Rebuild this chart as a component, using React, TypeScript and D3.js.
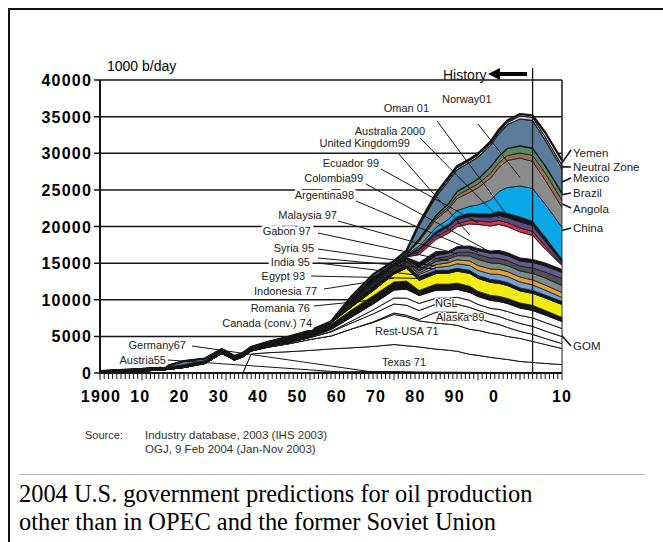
import React from 'react';
import * as d3 from 'd3';

// Production in thousand barrels per day, one value per year in YEARS.
const YEARS = [1900, 1910, 1915, 1920, 1925, 1929, 1932, 1934, 1936, 1940, 1945, 1950, 1955, 1960, 1965, 1970, 1973, 1976, 1980, 1983, 1985, 1988, 1990, 1993, 1995, 1997, 2000, 2003, 2006, 2010];

const austria = [0, 0, 0, 0, 0, 0, 0, 0, 0, 20, 20, 40, 75, 55, 50, 50, 40, 35, 30, 25, 25, 20, 20, 20, 20, 20, 20, 20, 20, 20];
const germany = [0, 0, 0, 0, 0, 0, 0, 0, 10, 20, 20, 40, 70, 110, 160, 150, 130, 110, 90, 85, 80, 75, 70, 65, 60, 60, 60, 55, 55, 50];
const texas = [0, 0, 0, 0, 0, 0, 0, 0, 2590, 2730, 2870, 3000, 3140, 3280, 3410, 3690, 3550, 3410, 3140, 3000, 2870, 2460, 2320, 2050, 1910, 1770, 1500, 1370, 1230, 1090];
const restUSA = [70, 270, 410, 750, 1300, 2660, 1770, 2180, 410, 750, 1090, 1500, 1770, 2590, 3280, 4100, 3960, 3550, 3550, 3550, 3550, 3410, 3410, 3280, 3280, 3140, 3140, 2870, 2590, 2180];
const alaska = [0, 0, 0, 0, 0, 0, 0, 0, 0, 0, 0, 0, 0, 0, 70, 200, 200, 200, 1500, 1640, 1770, 1910, 1640, 1500, 1370, 1230, 960, 960, 820, 680];
const ngl = [0, 0, 0, 0, 0, 0, 0, 0, 0, 70, 140, 270, 550, 820, 1090, 1230, 1370, 1230, 1090, 1090, 1090, 1090, 1090, 1090, 1090, 1090, 1090, 1090, 1020, 960];
const gom = [0, 0, 0, 0, 0, 0, 0, 0, 0, 0, 0, 0, 70, 270, 550, 820, 960, 960, 820, 820, 960, 960, 820, 820, 960, 1090, 1090, 1160, 1160, 1090];
const canada = [0, 0, 0, 0, 0, 0, 0, 0, 0, 0, 0, 70, 270, 550, 820, 1090, 1230, 1090, 1090, 1090, 1090, 1090, 1090, 1090, 1090, 1090, 1020, 1020, 1020, 960];
const romania = [200, 270, 270, 340, 340, 410, 410, 410, 410, 550, 680, 680, 680, 960, 1090, 1090, 1100, 680, 820, 820, 820, 820, 680, 680, 680, 680, 680, 680, 610, 550];
const indonesia = [0, 0, 0, 0, 0, 0, 0, 0, 0, 0, 0, 40, 200, 410, 680, 1090, 1780, 1370, 1450, 1500, 1640, 1770, 1770, 1770, 1770, 1770, 1640, 1640, 1710, 1770];
const egypt = [0, 0, 0, 0, 0, 0, 0, 0, 0, 0, 0, 0, 0, 550, 750, 410, 410, 550, 410, 410, 410, 410, 410, 410, 410, 410, 410, 410, 410, 410];
const india = [0, 0, 0, 0, 0, 0, 0, 0, 0, 0, 0, 0, 0, 70, 110, 140, 160, 270, 410, 550, 610, 680, 680, 750, 820, 820, 820, 750, 680, 550];
const syria = [0, 0, 0, 0, 0, 0, 0, 0, 0, 0, 0, 0, 0, 40, 70, 70, 110, 200, 410, 480, 550, 610, 680, 680, 680, 680, 680, 680, 680, 680];
const gabon = [0, 0, 0, 0, 0, 0, 0, 0, 0, 0, 0, 0, 0, 40, 70, 110, 140, 270, 410, 480, 550, 680, 820, 820, 820, 820, 820, 890, 960, 960];
const malaysia = [0, 0, 0, 0, 0, 0, 0, 0, 0, 0, 0, 0, 0, 30, 40, 70, 110, 200, 410, 410, 480, 550, 680, 680, 680, 680, 680, 750, 820, 960];
const argentina = [0, 0, 0, 0, 0, 0, 0, 0, 0, 0, 0, 0, 0, 100, 140, 200, 220, 270, 410, 410, 480, 550, 550, 610, 680, 680, 680, 750, 820, 820];
const colombia = [0, 0, 0, 0, 0, 0, 0, 0, 0, 0, 0, 0, 0, 270, 600, 300, 300, 680, 550, 270, 270, 270, 270, 340, 410, 410, 410, 410, 410, 410];
const unitedKingdom = [0, 0, 0, 0, 0, 0, 0, 0, 0, 0, 0, 0, 0, 0, 0, 0, 70, 1090, 1640, 2460, 2730, 3000, 3280, 3410, 3550, 3550, 3550, 3280, 1910, 550];
const ecuador = [0, 0, 0, 0, 0, 0, 0, 0, 0, 0, 0, 0, 0, 0, 0, 0, 70, 340, 410, 410, 410, 480, 480, 550, 550, 550, 550, 550, 410, 140];
const australia = [0, 0, 0, 0, 0, 0, 0, 0, 0, 0, 0, 0, 0, 0, 0, 0, 70, 270, 410, 480, 550, 550, 550, 680, 680, 680, 820, 820, 680, 270];
const oman = [0, 0, 0, 0, 0, 0, 0, 0, 0, 0, 0, 0, 0, 0, 0, 0, 70, 270, 270, 340, 410, 410, 410, 410, 550, 550, 680, 550, 550, 410];
const china = [0, 0, 0, 0, 0, 0, 0, 0, 0, 0, 0, 0, 0, 0, 40, 70, 140, 270, 550, 680, 820, 960, 1230, 1910, 2730, 3550, 4230, 4500, 4500, 4370];
const norway = [0, 0, 0, 0, 0, 0, 0, 0, 0, 0, 0, 0, 0, 0, 0, 0, 40, 680, 1090, 1370, 1640, 1910, 2320, 3000, 3280, 3690, 3820, 3690, 3280, 2730];
const angola = [0, 0, 0, 0, 0, 0, 0, 0, 0, 0, 0, 0, 0, 0, 0, 0, 30, 140, 270, 340, 410, 550, 550, 680, 680, 680, 680, 820, 960, 960];
const brazil = [0, 0, 0, 0, 0, 0, 0, 0, 0, 0, 0, 0, 0, 0, 30, 40, 70, 140, 270, 410, 550, 550, 680, 820, 820, 960, 960, 960, 960, 960];
const mexico = [0, 30, 140, 550, 340, 200, 140, 140, 140, 110, 140, 160, 200, 340, 340, 340, 340, 1910, 2590, 3140, 3000, 3000, 3000, 3000, 3140, 3280, 3690, 3820, 3550, 3410];
const neutralZone = [0, 0, 0, 0, 0, 0, 0, 0, 0, 0, 0, 0, 0, 70, 70, 30, 40, 200, 270, 270, 270, 270, 270, 270, 270, 270, 410, 410, 410, 410];
const yemen = [0, 0, 0, 0, 0, 0, 0, 0, 0, 0, 0, 0, 0, 0, 0, 0, 30, 70, 140, 200, 200, 140, 200, 200, 270, 270, 270, 270, 610, 680];

// Stack order, bottom to top.
const SERIES = [
  { key: 'austria', values: austria },
  { key: 'germany', values: germany },
  { key: 'texas', values: texas },
  { key: 'restUSA', values: restUSA },
  { key: 'alaska', values: alaska },
  { key: 'ngl', values: ngl },
  { key: 'gom', values: gom },
  { key: 'canada', values: canada },
  { key: 'romania', values: romania },
  { key: 'indonesia', values: indonesia },
  { key: 'egypt', values: egypt },
  { key: 'india', values: india },
  { key: 'syria', values: syria },
  { key: 'gabon', values: gabon },
  { key: 'malaysia', values: malaysia },
  { key: 'argentina', values: argentina },
  { key: 'colombia', values: colombia },
  { key: 'unitedKingdom', values: unitedKingdom },
  { key: 'ecuador', values: ecuador },
  { key: 'australia', values: australia },
  { key: 'oman', values: oman },
  { key: 'china', values: china },
  { key: 'norway', values: norway },
  { key: 'angola', values: angola },
  { key: 'brazil', values: brazil },
  { key: 'mexico', values: mexico },
  { key: 'neutralZone', values: neutralZone },
  { key: 'yemen', values: yemen },
];

const Y_TICKS = [0, 5000, 10000, 15000, 20000, 25000, 30000, 35000, 40000];
const DECADES = [1900, 1910, 1920, 1930, 1940, 1950, 1960, 1970, 1980, 1990, 2000, 2010];
const DECADE_LABELS = ['1900', '10', '20', '30', '40', '50', '60', '70', '80', '90', '0', '10'];

// Leader-labelled series: text, where the text sits, where its leader starts, and which layer/year it points to.
const LEFT_LABELS = [
  { text: 'Oman 01', tx: 429, ty: 112, anchor: 'end', sx: 437, sy: 121, key: 'oman', year: 1997, frac: 0.5 },
  { text: 'Norway01', tx: 442, ty: 103, anchor: 'start', sx: 478, sy: 124, key: 'norway', year: 2000, frac: 0.3 },
  { text: 'Australia 2000', tx: 425, ty: 135, anchor: 'end', sx: 420, sy: 138, key: 'australia', year: 1995, frac: 0.5 },
  { text: 'United Kingdom99', tx: 410, ty: 147, anchor: 'end', sx: 398, sy: 153, key: 'unitedKingdom', year: 1988, frac: 0.5 },
  { text: 'Ecuador 99', tx: 379, ty: 167, anchor: 'end', sx: 381, sy: 169, key: 'ecuador', year: 1990, frac: 0.5 },
  { text: 'Colombia99', tx: 363, ty: 182, anchor: 'end', sx: 366, sy: 184, key: 'colombia', year: 1993, frac: 0.5 },
  { text: 'Argentina98', tx: 354, ty: 199, anchor: 'end', sx: 356, sy: 201, key: 'argentina', year: 1990, frac: 0.5 },
  { text: 'Malaysia 97', tx: 337, ty: 219, anchor: 'end', sx: 338, sy: 221, key: 'malaysia', year: 1985, frac: 0.5 },
  { text: 'Gabon 97', tx: 311, ty: 235, anchor: 'end', sx: 318, sy: 233, key: 'gabon', year: 1983, frac: 0.5 },
  { text: 'Syria 95', tx: 314, ty: 252, anchor: 'end', sx: 318, sy: 249, key: 'syria', year: 1980, frac: 0.5 },
  { text: 'India 95', tx: 310, ty: 266, anchor: 'end', sx: 318, sy: 258, key: 'india', year: 1980, frac: 0.5 },
  { text: '', tx: 0, ty: 0, anchor: 'end', sx: 318, sy: 263, key: 'india', year: 1976, frac: 0.5 },
  { text: 'Egypt 93', tx: 305, ty: 280, anchor: 'end', sx: 311, sy: 276, key: 'egypt', year: 1976, frac: 0.5 },
  { text: 'Indonesia 77', tx: 317, ty: 295, anchor: 'end', sx: 324, sy: 289, key: 'indonesia', year: 1970, frac: 0.5 },
  { text: 'Romania 76', tx: 310, ty: 312, anchor: 'end', sx: 314, sy: 306, key: 'romania', year: 1965, frac: 0.5 },
  { text: 'Canada (conv.) 74', tx: 312, ty: 327, anchor: 'end', sx: 0, sy: 0, key: '', year: 0, frac: 0 },
  { text: 'Germany67', tx: 186, ty: 349, anchor: 'end', sx: 192, sy: 346, key: 'germany', year: 1965, frac: 0.5 },
  { text: 'Austria55', tx: 166, ty: 364, anchor: 'end', sx: 168, sy: 360, key: 'austria', year: 1960, frac: 0.5 },
];

const RIGHT_LABELS = [
  { text: 'Yemen', ty: 157, ey: 150, key: 'yemen', frac: 0.5 },
  { text: 'Neutral Zone', ty: 171, ey: 167, key: 'neutralZone', frac: 0.5 },
  { text: 'Mexico', ty: 182, ey: 178, key: 'mexico', frac: 0.45 },
  { text: 'Brazil', ty: 197, ey: 193, key: 'brazil', frac: 0.8 },
  { text: 'Angola', ty: 213, ey: 208, key: 'angola', frac: 0.5 },
  { text: 'China', ty: 232, ey: 228, key: 'china', frac: 0.9 },
  { text: 'GOM', ty: 350, ey: 346, key: 'gom', frac: 0.1 },
];

const INNER_LABELS = [
  { text: 'NGL', tx: 435, ty: 307 },
  { text: 'Alaska 89', tx: 436, ty: 321 },
  { text: 'Rest-USA 71', tx: 375, ty: 335 },
  { text: 'Texas 71', tx: 382, ty: 366 },
];

const LAYER_STYLE: Record<string, { fill: string; sw: number }> = {
  austria: { fill: '#151515', sw: 0.9 },
  germany: { fill: '#151515', sw: 0.9 },
  texas: { fill: '#ffffff', sw: 1 },
  restUSA: { fill: '#ffffff', sw: 1 },
  alaska: { fill: '#ffffff', sw: 1 },
  ngl: { fill: '#ffffff', sw: 1 },
  gom: { fill: '#ffffff', sw: 1 },
  canada: { fill: '#ffffff', sw: 1 },
  romania: { fill: '#151515', sw: 1.2 },
  indonesia: { fill: '#f3ec12', sw: 0.9 },
  egypt: { fill: '#151515', sw: 0.9 },
  india: { fill: '#6fa2d8', sw: 0.8 },
  syria: { fill: '#e7a036', sw: 0.8 },
  gabon: { fill: '#7d8c87', sw: 0.8 },
  malaysia: { fill: '#4e5054', sw: 0.8 },
  argentina: { fill: '#675a91', sw: 0.8 },
  colombia: { fill: '#151515', sw: 1 },
  unitedKingdom: { fill: '#ffffff', sw: 1 },
  ecuador: { fill: '#da323e', sw: 0.8 },
  australia: { fill: '#574a88', sw: 0.8 },
  oman: { fill: '#151515', sw: 1 },
  china: { fill: '#0aa8e8', sw: 0.8 },
  norway: { fill: '#8b8b8b', sw: 0.8 },
  angola: { fill: '#a06e58', sw: 0.8 },
  brazil: { fill: '#5c8a60', sw: 0.8 },
  mexico: { fill: '#5b7c9d', sw: 1.4 },
  neutralZone: { fill: '#d4d4d4', sw: 1 },
  yemen: { fill: '#ffffff', sw: 1.2 },
};

const SANS = "'Liberation Sans', Arial, Helvetica, sans-serif";
const SERIF = "'Liberation Serif', 'Times New Roman', Times, serif";
const INK = '#161616';

type Row = Record<string, number>;

export default function App() {
  const x = d3.scaleLinear().domain([1900, 2010]).range([100, 562]);
  const y = d3.scaleLinear().domain([0, 40000]).range([373, 80]);
  // decade labels are printed on a slightly compressed ruler, the last one at the axis end
  const decadeLabelX = d3.scaleLinear().domain([1900, 2000]).range([x(1900) + 1, x(2000) - 26]);

  const keys = SERIES.map((s) => s.key);
  const rows: Row[] = YEARS.map((year, i) => {
    const r: Row = { year };
    SERIES.forEach((s) => {
      r[s.key] = s.values[i];
    });
    return r;
  });
  const stacked = d3.stack<Row>().keys(keys)(rows);
  const byKey: Record<string, d3.Series<Row, string>> = {};
  stacked.forEach((s) => {
    byKey[s.key] = s;
  });

  const area = d3
    .area<d3.SeriesPoint<Row>>()
    .x((d) => x(d.data.year))
    .y0((d) => y(d[0]))
    .y1((d) => y(d[1]));
  const topLine = d3
    .line<d3.SeriesPoint<Row>>()
    .x((d) => x(d.data.year))
    .y((d) => y(d[1]));

  const pointIn = (key: string, year: number, frac: number): [number, number] => {
    const s = byKey[key];
    const d = s[YEARS.indexOf(year)];
    return [x(year), y(d[0] + frac * (d[1] - d[0]))];
  };

  const last = YEARS[YEARS.length - 1];
  const top = stacked[stacked.length - 1];
  const topAtEnd = y(top[top.length - 1][1]);
  const nowYear = 2003;

  return (
    <svg width={663} height={542} style={{ position: 'absolute', left: 0, top: 0, background: '#fff' }}>
      <rect x={9} y={9} width={680} height={560} fill="#fff" stroke="#111" strokeWidth={2} />

      {/* gridlines and y ticks */}
      {Y_TICKS.map((v) => (
        <line key={'g' + v} x1={94} x2={v === 0 ? 100 : x(last)} y1={y(v)} y2={y(v)} stroke={INK} strokeWidth={1.5} />
      ))}
      {Y_TICKS.map((v) => (
        <text
          key={'yl' + v}
          x={92}
          y={y(v) + 6}
          textAnchor="end"
          fontFamily={SANS}
          fontWeight="bold"
          fontSize={16}
          letterSpacing={1.2}
          fill="#000"
        >
          {v}
        </text>
      ))}

      {/* right frame edge above the stack */}
      <line x1={x(last)} x2={x(last)} y1={y(40000)} y2={topAtEnd} stroke={INK} strokeWidth={1.5} />

      {/* stacked production */}
      {stacked.map((s) => (
        <path
          key={s.key}
          d={area(s) || ''}
          fill={LAYER_STYLE[s.key].fill}
          stroke={INK}
          strokeWidth={LAYER_STYLE[s.key].sw}
          strokeLinejoin="round"
        />
      ))}
      <path d={topLine(top) || ''} fill="none" stroke={INK} strokeWidth={2.2} strokeLinejoin="round" />

      {/* axes */}
      <line x1={100} x2={100} y1={y(40000)} y2={y(0) + 1} stroke={INK} strokeWidth={2} />
      <line x1={99} x2={x(last)} y1={y(0)} y2={y(0)} stroke={INK} strokeWidth={2} />
      {d3.range(1900, 2011).map((yr) => (
        <line
          key={'t' + yr}
          x1={x(yr)}
          x2={x(yr)}
          y1={y(0)}
          y2={y(0) + (yr % 10 === 0 ? 7 : 6)}
          stroke={INK}
          strokeWidth={1}
        />
      ))}
      {DECADES.map((yr, i) => (
        <text
          key={'xl' + yr}
          x={yr === 2010 ? x(yr) : decadeLabelX(yr)}
          y={402}
          textAnchor="middle"
          fontFamily={SANS}
          fontWeight="bold"
          fontSize={16}
          letterSpacing={1.2}
          fill="#000"
        >
          {DECADE_LABELS[i]}
        </text>
      ))}

      <text x={107} y={71} fontFamily={SANS} fontSize={14} fill="#000">
        1000 b/day
      </text>

      {/* left labels with white halos that break the gridlines */}
      {LEFT_LABELS.filter((l) => l.text).map((l) => (
        <text
          key={'ll' + l.text}
          x={l.tx}
          y={l.ty}
          textAnchor={l.anchor as any}
          fontFamily={SANS}
          fontSize={11}
          fill="#222"
          stroke="#fff"
          strokeWidth={6}
          paintOrder="stroke"
          strokeLinejoin="round"
        >
          {l.text}
        </text>
      ))}
      {LEFT_LABELS.filter((l) => l.key).map((l, i) => {
        const [px, py] = pointIn(l.key, l.year, l.frac);
        return <line key={'ld' + i} x1={l.sx} y1={l.sy} x2={px} y2={py} stroke={INK} strokeWidth={1} />;
      })}

      {INNER_LABELS.map((l) => (
        <text
          key={'il' + l.text}
          x={l.tx}
          y={l.ty}
          fontFamily={SANS}
          fontSize={11}
          fill="#222"
          stroke="#fff"
          strokeWidth={2}
          paintOrder="stroke"
        >
          {l.text}
        </text>
      ))}

      {RIGHT_LABELS.map((l) => {
        const [px, py] = pointIn(l.key, last, l.frac);
        return (
          <g key={'rl' + l.text}>
            <line x1={px} y1={py} x2={571} y2={l.ey} stroke={INK} strokeWidth={1.6} />
            <text x={573} y={l.ty} fontFamily={SANS} fontSize={11.5} fill="#222">
              {l.text}
            </text>
          </g>
        );
      })}

      {/* history marker */}
      <line x1={x(nowYear)} x2={x(nowYear)} y1={68} y2={y(0)} stroke={INK} strokeWidth={1.3} />
      <text x={443} y={80} fontFamily={SANS} fontSize={14} fill="#111">
        History
      </text>
      <line x1={497} x2={527} y1={74} y2={74} stroke="#000" strokeWidth={4} />
      <polygon points="488,74 500,68 500,80" fill="#000" />

      {/* source note */}
      <text x={85} y={439} fontFamily={SANS} fontSize={11} fill="#333">
        Source:
      </text>
      <text x={145} y={439} fontFamily={SANS} fontSize={11.5} fill="#333">
        Industry database, 2003 (IHS 2003)
      </text>
      <text x={145} y={453} fontFamily={SANS} fontSize={11.5} fill="#333">
        OGJ, 9 Feb 2004 (Jan-Nov 2003)
      </text>

      <line x1={19} x2={645} y1={474.5} y2={474.5} stroke="#b5b5b5" strokeWidth={1} />
      <text x={19} y={502} fontFamily={SERIF} fontSize={24.4} fill="#000">
        2004 U.S. government predictions for oil production
      </text>
      <text x={19} y={530} fontFamily={SERIF} fontSize={24.4} fill="#000">
        other than in OPEC and the former Soviet Union
      </text>
    </svg>
  );
}
